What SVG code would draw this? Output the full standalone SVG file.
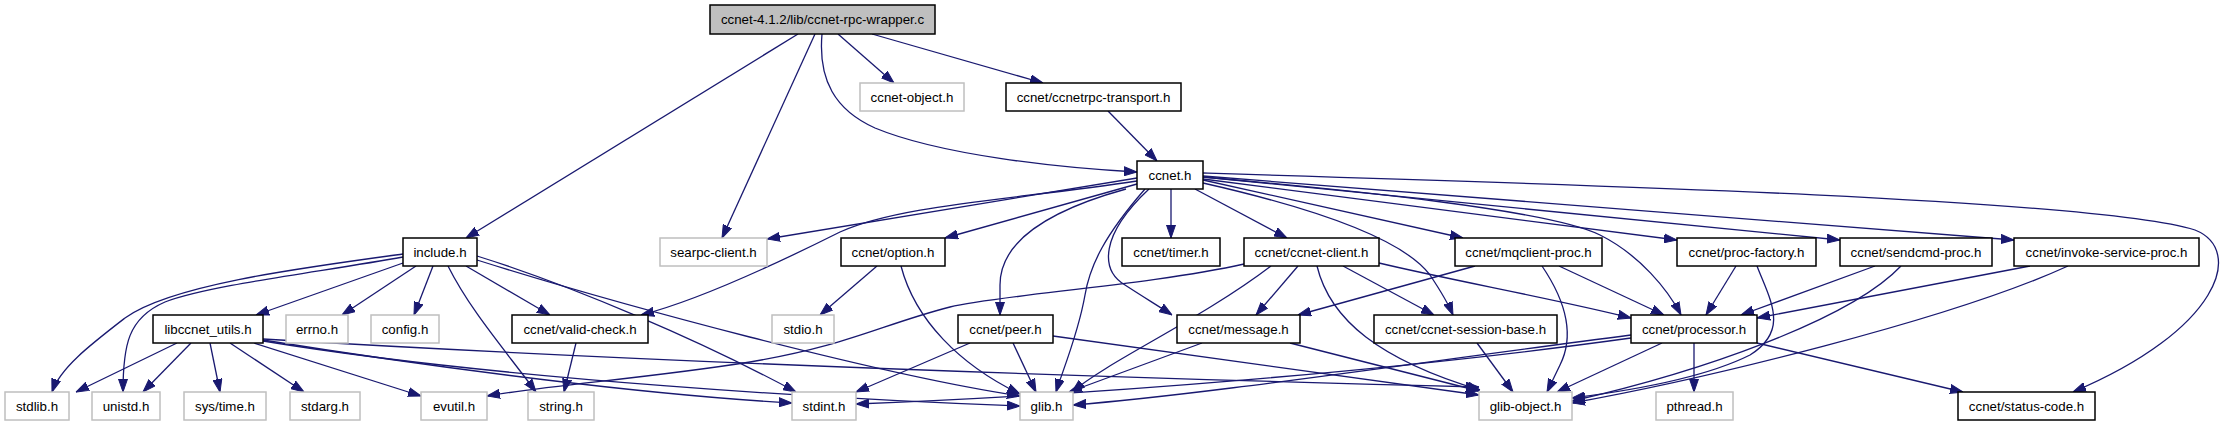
<svg xmlns="http://www.w3.org/2000/svg" width="2225" height="427" viewBox="0 0 2225 427">
<defs>
<style>
.n rect{fill:#fff;stroke:#000;stroke-width:1.5}
.g rect{fill:#fff;stroke:#bfbfbf;stroke-width:1.5}
.m rect{fill:#bfbfbf;stroke:#000;stroke-width:1.5}
text{font-family:"Liberation Sans",Arial,sans-serif;font-size:13.3px;fill:#000;text-anchor:middle}
#edges path{fill:none;stroke:#191970;stroke-width:1.3;marker-end:url(#ah)}
</style>
<marker id="ah" markerWidth="13" markerHeight="10" refX="13" refY="5" orient="auto" markerUnits="userSpaceOnUse">
<path d="M0,0.5 L13,5 L0,9.5 z" fill="#191970" stroke="#191970" stroke-width="1"/>
</marker>
</defs>
<rect width="2225" height="427" fill="#fff"/>
<g id="edges">
<path d="M798,34 L466,238"/>
<path d="M815,34 L722,238"/>
<path d="M822,34 C818,80 835,110 875,128 C940,155 1060,168 1137,172"/>
<path d="M838,34 L894,83"/>
<path d="M872,34 L1043,83"/>
<path d="M1108,111 L1157,161"/>
<path d="M1137,178 L767,239"/>
<path d="M1137,181 C1010,200 900,205 840,232 C780,262 700,300 641,315"/>
<path d="M1137,184 L945,238"/>
<path d="M1126,189 C1050,210 1000,240 1000,285 L1000,315"/>
<path d="M1145,189 C1105,235 1090,265 1085,295 C1078,335 1062,372 1056,392"/>
<path d="M1149,189 C1100,235 1100,270 1125,285 C1145,298 1160,307 1172,315"/>
<path d="M1171,189 L1171,238"/>
<path d="M1195,189 L1287,238"/>
<path d="M1203,183 C1300,205 1400,235 1430,275 C1440,290 1448,303 1453,315"/>
<path d="M1203,180 L1463,238"/>
<path d="M1203,177 C1350,190 1550,210 1600,235 C1640,255 1668,290 1681,315"/>
<path d="M1203,179 L1677,240"/>
<path d="M1203,177 L1840,240"/>
<path d="M1203,176 L2014,240"/>
<path d="M1203,173 C1600,185 2100,200 2195,230 C2245,250 2220,330 2073,392"/>
<path d="M403,254 C300,268 170,285 125,318 C90,345 60,368 52,392"/>
<path d="M403,257 C320,272 210,285 165,302 C128,318 123,345 123,392"/>
<path d="M403,263 L256,315"/>
<path d="M416,266 L342,315"/>
<path d="M433,266 L414,315"/>
<path d="M448,266 C470,310 505,350 536,392"/>
<path d="M466,266 L550,315"/>
<path d="M477,256 C570,285 700,340 796,392"/>
<path d="M477,260 C620,305 880,375 1020,396"/>
<path d="M177,343 L76,392"/>
<path d="M191,343 L143,392"/>
<path d="M210,343 L220,392"/>
<path d="M230,343 L304,392"/>
<path d="M254,343 L421,396"/>
<path d="M263,340 C450,370 650,395 792,403"/>
<path d="M263,341 C500,380 850,400 1020,406"/>
<path d="M263,339 C700,365 1200,380 1479,387"/>
<path d="M576,343 L564,392"/>
<path d="M877,266 L820,315"/>
<path d="M901,266 C915,320 960,365 1020,394"/>
<path d="M970,343 L856,392"/>
<path d="M1013,343 L1036,392"/>
<path d="M1053,336 L1479,395"/>
<path d="M1202,343 L1069,392"/>
<path d="M1290,343 L1479,391"/>
<path d="M1244,264 C1150,285 1000,295 950,307 C880,325 850,345 750,362 C650,378 550,385 487,396"/>
<path d="M1271,266 C1200,320 1110,360 1072,392"/>
<path d="M1298,266 L1256,315"/>
<path d="M1343,266 L1434,315"/>
<path d="M1317,266 C1330,320 1380,360 1480,390"/>
<path d="M1379,263 C1450,280 1560,300 1631,318"/>
<path d="M1475,266 L1298,315"/>
<path d="M1542,266 C1565,300 1575,335 1560,365 L1547,392"/>
<path d="M1559,266 L1664,315"/>
<path d="M1736,266 L1706,315"/>
<path d="M1757,266 C1770,300 1790,330 1750,355 C1700,380 1620,392 1572,398"/>
<path d="M1875,266 L1741,315"/>
<path d="M1901,266 C1850,320 1700,372 1572,401"/>
<path d="M2030,266 L1757,318"/>
<path d="M2068,266 C1950,320 1700,380 1572,403"/>
<path d="M1631,338 C1400,370 1100,395 856,404"/>
<path d="M1631,335 C1400,365 1200,395 1073,405"/>
<path d="M1662,343 L1557,392"/>
<path d="M1694,343 L1694,392"/>
<path d="M1757,343 L1963,392"/>
<path d="M1477,343 L1513,392"/>
</g>
<g id="n_main" class="m"><rect x="710" y="5" width="225" height="29"/><text x="822.5" y="24">ccnet-4.1.2/lib/ccnet-rpc-wrapper.c</text></g>
<g id="n_ccnet_object" class="g"><rect x="860" y="83" width="104" height="28"/><text x="912" y="101.5">ccnet-object.h</text></g>
<g id="n_transport" class="n"><rect x="1006" y="83" width="175" height="28"/><text x="1093.5" y="101.5">ccnet/ccnetrpc-transport.h</text></g>
<g id="n_ccnet" class="n"><rect x="1137" y="161" width="66" height="28"/><text x="1170" y="179.5">ccnet.h</text></g>
<g id="n_include" class="n"><rect x="403" y="238" width="74" height="28"/><text x="440" y="256.5">include.h</text></g>
<g id="n_searpc" class="g"><rect x="660" y="238" width="107" height="28"/><text x="713.5" y="256.5">searpc-client.h</text></g>
<g id="n_option" class="n"><rect x="841" y="238" width="104" height="28"/><text x="893" y="256.5">ccnet/option.h</text></g>
<g id="n_timer" class="n"><rect x="1122" y="238" width="98" height="28"/><text x="1171" y="256.5">ccnet/timer.h</text></g>
<g id="n_client" class="n"><rect x="1244" y="238" width="135" height="28"/><text x="1311.5" y="256.5">ccnet/ccnet-client.h</text></g>
<g id="n_mqclient" class="n"><rect x="1455" y="238" width="147" height="28"/><text x="1528.5" y="256.5">ccnet/mqclient-proc.h</text></g>
<g id="n_procfactory" class="n"><rect x="1677" y="238" width="139" height="28"/><text x="1746.5" y="256.5">ccnet/proc-factory.h</text></g>
<g id="n_sendcmd" class="n"><rect x="1840" y="238" width="152" height="28"/><text x="1916" y="256.5">ccnet/sendcmd-proc.h</text></g>
<g id="n_invoke" class="n"><rect x="2014" y="238" width="185" height="28"/><text x="2106.5" y="256.5">ccnet/invoke-service-proc.h</text></g>
<g id="n_libccnet" class="n"><rect x="153" y="315" width="110" height="28"/><text x="208" y="333.5">libccnet_utils.h</text></g>
<g id="n_errno" class="g"><rect x="286" y="315" width="62" height="28"/><text x="317" y="333.5">errno.h</text></g>
<g id="n_config" class="g"><rect x="371" y="315" width="68" height="28"/><text x="405" y="333.5">config.h</text></g>
<g id="n_validcheck" class="n"><rect x="512" y="315" width="136" height="28"/><text x="580" y="333.5">ccnet/valid-check.h</text></g>
<g id="n_stdio" class="g"><rect x="772" y="315" width="62" height="28"/><text x="803" y="333.5">stdio.h</text></g>
<g id="n_peer" class="n"><rect x="958" y="315" width="95" height="28"/><text x="1005.5" y="333.5">ccnet/peer.h</text></g>
<g id="n_message" class="n"><rect x="1177" y="315" width="123" height="28"/><text x="1238.5" y="333.5">ccnet/message.h</text></g>
<g id="n_session" class="n"><rect x="1374" y="315" width="183" height="28"/><text x="1465.5" y="333.5">ccnet/ccnet-session-base.h</text></g>
<g id="n_processor" class="n"><rect x="1631" y="315" width="126" height="28"/><text x="1694" y="333.5">ccnet/processor.h</text></g>
<g id="n_stdlib" class="g"><rect x="5" y="392" width="64" height="28"/><text x="37" y="410.5">stdlib.h</text></g>
<g id="n_unistd" class="g"><rect x="92" y="392" width="68" height="28"/><text x="126" y="410.5">unistd.h</text></g>
<g id="n_systime" class="g"><rect x="184" y="392" width="82" height="28"/><text x="225" y="410.5">sys/time.h</text></g>
<g id="n_stdarg" class="g"><rect x="290" y="392" width="70" height="28"/><text x="325" y="410.5">stdarg.h</text></g>
<g id="n_evutil" class="g"><rect x="421" y="392" width="66" height="28"/><text x="454" y="410.5">evutil.h</text></g>
<g id="n_string" class="g"><rect x="528" y="392" width="66" height="28"/><text x="561" y="410.5">string.h</text></g>
<g id="n_stdint" class="g"><rect x="792" y="392" width="64" height="28"/><text x="824" y="410.5">stdint.h</text></g>
<g id="n_glib" class="g"><rect x="1020" y="392" width="53" height="28"/><text x="1046.5" y="410.5">glib.h</text></g>
<g id="n_glibobject" class="g"><rect x="1479" y="392" width="93" height="28"/><text x="1525.5" y="410.5">glib-object.h</text></g>
<g id="n_pthread" class="g"><rect x="1656" y="392" width="77" height="28"/><text x="1694.5" y="410.5">pthread.h</text></g>
<g id="n_status" class="n"><rect x="1958" y="392" width="137" height="28"/><text x="2026.5" y="410.5">ccnet/status-code.h</text></g>
</svg>
